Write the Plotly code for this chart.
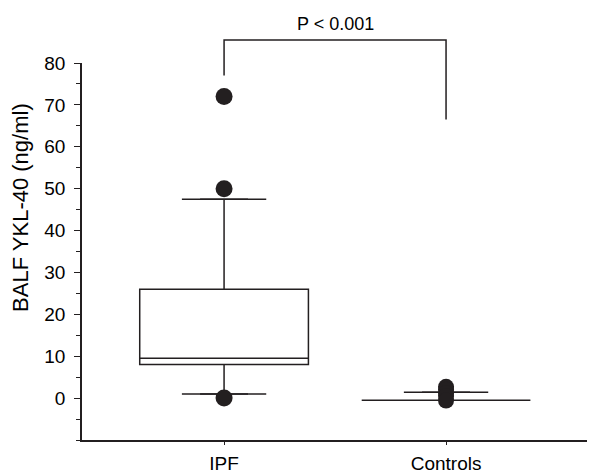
import plotly.graph_objects as go

# ---- data ----
groups = ["IPF", "Controls"]
group_pos = [0, 1]
q1 = [8.0, -0.5]
median = [9.5, -0.5]
q3 = [26.0, -0.5]
lower_whisker = [1.0, -0.5]
upper_whisker = [47.5, 1.4]
ipf_outliers = [72.0, 50.0, 0.0]
control_outliers = [2.7, 2.0, 1.2, 0.5, -0.6]
y_ticks = [0, 10, 20, 30, 40, 50, 60, 70, 80]
y_range = [-10, 80]
x_range = [-0.64, 1.671]
p_label = "P < 0.001"
y_title = "BALF YKL-40 (ng/ml)"
bracket_top = 85.5
bracket_left_end = 77.0
bracket_right_end = 66.5

INK = "#231f20"
BOX_W = 0.76
CAP_HALF = 0.108
FONT = "Liberation Sans, Arial, sans-serif"
PAGE_OFFSET = 8  # default body margin of the html page

fig = go.Figure()

for i, g in enumerate(groups):
    fig.add_trace(go.Box(
        x=[group_pos[i]], q1=[q1[i]], median=[median[i]], q3=[q3[i]],
        lowerfence=[lower_whisker[i]], upperfence=[upper_whisker[i]],
        width=BOX_W, fillcolor="white", line=dict(color=INK, width=1.5),
        boxpoints=False, showlegend=False, hoverinfo="skip",
    ))
    # whisker caps
    for v in (lower_whisker[i], upper_whisker[i]):
        if v == q1[i] or v == q3[i]:
            continue
        fig.add_trace(go.Scatter(
            x=[group_pos[i] - CAP_HALF, group_pos[i] + CAP_HALF], y=[v, v],
            mode="lines", line=dict(color=INK, width=1.5),
            showlegend=False, hoverinfo="skip",
        ))

fig.add_trace(go.Scatter(
    x=[group_pos[0]] * len(ipf_outliers), y=ipf_outliers, mode="markers",
    marker=dict(color=INK, size=17), showlegend=False, cliponaxis=False,
))
fig.add_trace(go.Scatter(
    x=[group_pos[1]] * len(control_outliers), y=control_outliers, mode="markers",
    marker=dict(color=INK, size=16), showlegend=False, cliponaxis=False,
))

def to_paper(v):
    return (v - y_range[0]) / (y_range[1] - y_range[0])

bracket = dict(type="path", xref="x", yref="paper",
               path=f"M {group_pos[0]},{to_paper(bracket_left_end)} "
                    f"L {group_pos[0]},{to_paper(bracket_top)} "
                    f"L {group_pos[1]},{to_paper(bracket_top)} "
                    f"L {group_pos[1]},{to_paper(bracket_right_end)}",
               line=dict(color=INK, width=1.5))
fig.add_shape(**bracket)
fig.add_annotation(x=(group_pos[0] + group_pos[1]) / 2, y=to_paper(bracket_top),
                   xref="x", yref="paper", text=p_label, showarrow=False,
                   yanchor="bottom", yshift=4,
                   font=dict(family=FONT, size=18, color="black"))
# y-axis title (placed a bit above the axis centre, as in the reference)
fig.add_annotation(x=-0.121, y=0.618, xref="paper", yref="paper",
                   text=y_title, textangle=-90, showarrow=False,
                   xanchor="center", yanchor="middle",
                   font=dict(family=FONT, size=22, color="black"))

fig.update_layout(
    width=595 - PAGE_OFFSET, height=475 - PAGE_OFFSET,
    margin=dict(l=82 - PAGE_OFFSET, r=0, t=63 - PAGE_OFFSET, b=35),
    paper_bgcolor="white", plot_bgcolor="white",
    font=dict(family=FONT, color="black"),
    xaxis=dict(range=x_range, tickvals=group_pos, ticktext=groups,
               showline=True, linecolor=INK, linewidth=1.5,
               ticks="outside", ticklen=3, tickcolor=INK, automargin=False,
               showgrid=False, zeroline=False, ticklabelstandoff=2,
               tickfont=dict(size=19, family=FONT, color="black")),
    yaxis=dict(range=y_range, tickvals=y_ticks, automargin=False,
               showline=True, linecolor=INK, linewidth=1.5,
               ticks="outside", ticklen=6, tickcolor=INK,
               minor=dict(dtick=5, tick0=0, ticks="outside", ticklen=4, tickcolor=INK),
               showgrid=False, zeroline=False, ticklabelstandoff=5,
               tickfont=dict(size=19, family=FONT, color="black")),
)

fig.write_html("out.html")
